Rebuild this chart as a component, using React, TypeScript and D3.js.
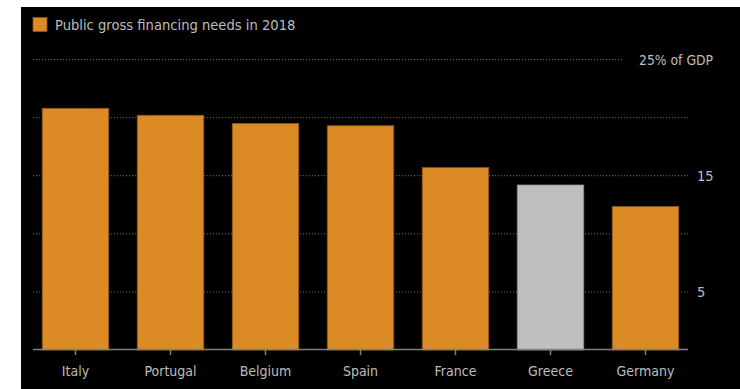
import React from "react";
import * as d3 from "d3";

const categories = ["Italy", "Portugal", "Belgium", "Spain", "France", "Greece", "Germany"];
const values = [20.8, 20.2, 19.5, 19.3, 15.7, 14.2, 12.35];
const highlight = ["Greece"];
const gridTicks = [5, 10, 15, 20, 25];
const labelTicks = [5, 15];
const topLabel = "25% of GDP";
const legendLabel = "Public gross financing needs in 2018";

const W = 740;
const H = 389;
const FONT = "'DejaVu Sans Condensed', 'DejaVu Sans', sans-serif";

export default function App() {
  const x = d3
    .scaleBand<string>()
    .domain(categories)
    .range([28, 693])
    .paddingInner(0.3)
    .paddingOuter(0.15);
  const y = d3.scaleLinear().domain([0, 25]).range([350, 59.5]);
  const axisLeft = 33;
  const axisRight = 688;

  return (
    <svg
      width={W}
      height={H}
      style={{ position: "absolute", left: 0, top: 0, display: "block" }}
    >
      <rect x={0} y={0} width={W} height={H} fill="#fff" />
      <rect x={21} y={7} width={W - 21} height={H - 7} fill="#000" />

      {/* legend */}
      <rect x={33} y={17.5} width={14} height={14} fill="#DB8A26" stroke="#8a5716" strokeWidth={0.8} />
      <text x={55} y={30} fill="#bdbdbd" fontFamily={FONT} fontSize={14.6}>
        {legendLabel}
      </text>

      {/* gridlines */}
      {gridTicks.map((t) => (
        <line
          key={t}
          x1={axisLeft}
          x2={t === 25 ? 623 : axisRight}
          y1={y(t)}
          y2={y(t)}
          stroke="#6a6a6a"
          strokeWidth={1}
          strokeDasharray="1.2,1.8"
        />
      ))}

      {/* y labels */}
      <text x={639} y={y(25) + 5} fill="#bdbdbd" fontFamily={FONT} fontSize={13.8}>
        {topLabel}
      </text>
      {labelTicks.map((t) => (
        <text key={t} x={697} y={y(t) + 5} fill="#bdbdbd" fontFamily={FONT} fontSize={14.5}>
          {t}
        </text>
      ))}

      {/* bars */}
      {categories.map((c, i) => {
        const hl = highlight.includes(c);
        return (
          <rect
            key={c}
            x={x(c)!}
            y={y(values[i])}
            width={x.bandwidth()}
            height={y(0) - y(values[i])}
            fill={hl ? "#BFBFBF" : "#DB8A26"}
            stroke={hl ? "#8c8c8c" : "#8a5716"}
            strokeWidth={0.8}
          />
        );
      })}

      {/* baseline + ticks */}
      <line x1={axisLeft} x2={axisRight} y1={y(0) - 0.5} y2={y(0) - 0.5} stroke="#808080" strokeWidth={1.5} />
      {categories.map((c) => {
        const cx = x(c)! + x.bandwidth() / 2;
        return (
          <g key={c}>
            <line x1={cx} x2={cx} y1={y(0)} y2={y(0) + 5} stroke="#808080" strokeWidth={1.5} />
            <text
              x={cx}
              y={376}
              textAnchor="middle"
              fill="#bdbdbd"
              fontFamily={FONT}
              fontSize={14}
            >
              {c}
            </text>
          </g>
        );
      })}
    </svg>
  );
}
